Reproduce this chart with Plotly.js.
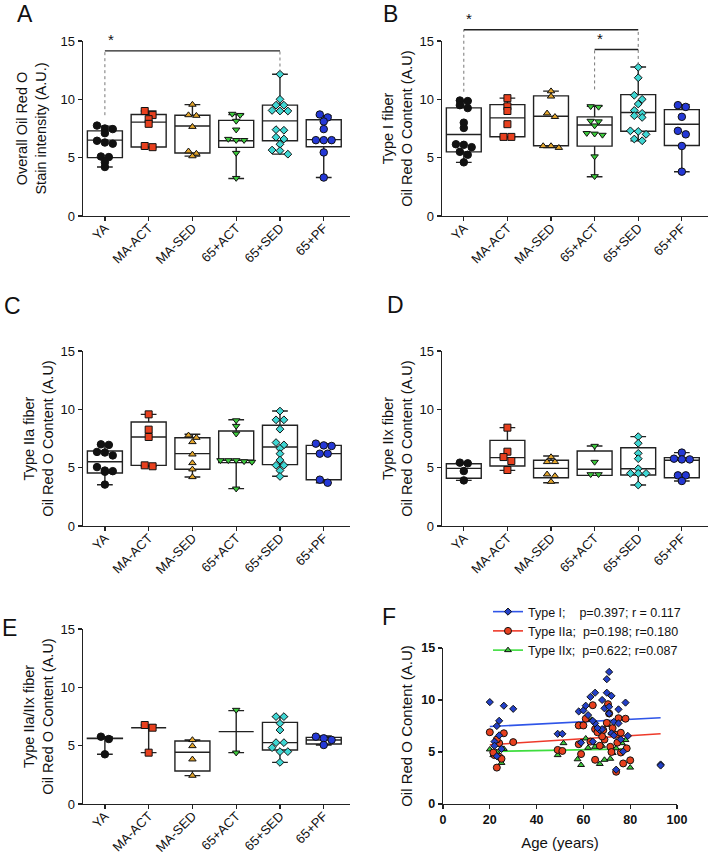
<!DOCTYPE html>
<html><head><meta charset="utf-8">
<script src="https://cdn.plot.ly/plotly-3.0.1.min.js"></script>
<style>body{margin:0;background:#fff}</style>
</head><body><div id="chart" style="width:709px;height:855px"></div>
<script>
// ---------- categories / styles ----------
const groups = ['YA','MA-ACT','MA-SED','65+ACT','65+SED','65+PF'];
const groupColors = ['#111111','#E8401E','#E3A52C','#3CCB3C','#3ED6D3','#2438D6'];
const groupSymbols = ['circle','square','triangle-up','triangle-down','diamond','circle'];

// ---------- Panel A: Overall Oil Red O stain intensity ----------
const A_pts = [
  [7.75,7.45,7.5,7.1,6.3,6.45,6.2,5.1,5.05,4.6,4.2],
  [9.0,8.65,8.3,7.9,6.0,5.9],
  [9.55,8.6,8.65,7.65,5.55,5.35,5.13],
  [8.75,8.65,8.15,7.4,6.6,6.5,6.5,5.4,3.25],
  [12.15,10.0,9.5,9.5,9.0,9.0,9.05,7.4,7.35,6.75,6.6,6.15,5.65,5.6,5.3],
  [8.7,8.45,8.1,7.45,6.5,6.5,6.5,5.45,3.3]
];
const A_q1  = [5.0, 5.92, 5.4, 5.88, 6.45, 5.94];
const A_med = [6.5, 8.05, 7.72, 6.45, 8.15, 6.55];
const A_q3  = [7.3, 8.7, 8.64, 8.2, 9.5, 8.25];
const A_lo  = [4.2, 5.85, 5.13, 3.22, 5.3, 3.3];
const A_hi  = [7.7, 9.0, 9.55, 8.7, 12.15, 8.6];

// ---------- Panel B: Type I fiber ----------
const B_pts = [
  [9.9,9.85,9.5,9.25,8.0,7.55,6.15,6.1,5.9,5.5,5.25,4.6],
  [10.1,9.4,9.0,7.87,6.78,6.78],
  [10.7,10.25,8.8,8.5,6.0,5.85,6.0],
  [9.4,9.35,8.15,8.1,7.75,7.1,7.05,6.95,5.1,3.4],
  [12.75,11.85,10.35,10.0,9.6,9.05,8.8,8.6,8.45,7.3,7.25,7.0,6.6,6.45],
  [9.5,9.35,8.5,7.3,7.0,6.0,3.8]
];
const B_q1  = [5.5, 6.79, 6.02, 5.99, 7.27, 6.04];
const B_med = [6.99, 8.41, 8.55, 7.8, 8.87, 7.87];
const B_q3  = [9.27, 9.55, 10.3, 8.5, 10.4, 9.12];
const B_lo  = [4.6, 6.7, 5.87, 3.36, 6.44, 3.79];
const B_hi  = [9.9, 10.1, 10.7, 9.41, 12.77, 9.55];

// ---------- Panel C: Type IIa fiber ----------
const C_pts = [
  [7.0,6.95,6.35,6.3,6.05,5.05,4.75,4.7,4.65,3.55],
  [9.57,8.26,7.63,5.2,5.12],
  [7.77,7.57,7.2,6.14,5.4,4.86,4.2],
  [9.05,8.57,7.91,5.63,5.54,5.49,5.63,5.63,3.2],
  [9.85,9.1,9.1,8.3,7.15,6.95,6.65,6.2,5.65,5.2,5.2,4.75,4.25],
  [7.06,6.86,6.91,6.2,6.2,3.97,3.71]
];
const C_q1  = [4.54, 5.2, 4.86, 5.43, 5.26, 3.97];
const C_med = [5.51, 7.63, 6.2, 5.63, 6.77, 6.2];
const C_q3  = [6.43, 8.91, 7.57, 8.14, 8.63, 6.91];
const C_lo  = [3.54, 5.11, 4.2, 3.2, 4.26, 3.71];
const C_hi  = [7.0, 9.57, 7.86, 9.11, 9.86, 7.06];

// ---------- Panel D: Type IIx fiber ----------
const D_pts = [
  [5.37,5.43,4.71,3.91],
  [8.43,6.37,5.91,5.57,4.8],
  [5.91,5.49,5.49,4.43,4.29,3.8],
  [6.86,5.49,4.43,4.43],
  [7.66,7.09,6.23,5.77,4.91,4.51,4.51,4.51,3.51],
  [6.29,5.77,5.71,5.71,4.34,4.34,3.86]
];
const D_q1  = [4.09, 5.14, 4.14, 4.34, 4.37, 4.14];
const D_med = [4.94, 5.86, 4.94, 4.86, 4.91, 5.63];
const D_q3  = [5.34, 7.34, 5.63, 6.43, 6.71, 5.86];
const D_lo  = [3.91, 4.77, 3.71, 4.34, 3.51, 3.86];
const D_hi  = [5.43, 8.43, 6.0, 6.86, 7.66, 6.29];

// ---------- Panel E: Type IIa/IIx fiber ----------
const E_pts = [
  [5.77,5.57,4.26],
  [6.77,6.54,4.4],
  [5.49,4.97,3.83,2.43],
  [8.06,4.4],
  [7.49,7.49,6.91,6.34,5.26,5.26,4.83,4.49,4.49,3.57],
  [5.63,5.77,5.49,5.06]
];
const E_q1  = [5.6, 6.54, 2.83, 6.2, 4.63, 5.14];
const E_med = [5.6, 6.54, 4.43, 6.2, 5.26, 5.49];
const E_q3  = [5.63, 6.54, 5.4, 6.2, 7.0, 5.71];
const E_lo  = [4.26, 4.4, 2.43, 4.4, 3.57, 5.06];
const E_hi  = [5.77, 6.77, 5.49, 8.0, 7.49, 5.83];

// ---------- Panel F: Oil Red O content vs age ----------
const F_ageI = [20,22,23,23,24,24,25,26,30,22,49,51,58,59,60,61,62,63,64,65,65,67,68,68,69,70,70,71,71,71,72,72,73,73,74,75,75,76,77,78,79,93,93,64,66];
const F_valI = [9.8,6.0,7.5,4.6,8.0,6.6,5.3,9.45,9.15,5.6,6.75,6.75,8.9,5.9,9.0,9.45,8.55,10.3,6.0,10.7,7.75,7.1,10.0,7.2,9.2,12.0,10.7,12.7,9.35,8.7,10.4,6.8,7.9,6.6,3.3,9.1,7.75,6.2,5.05,9.75,6.55,3.8,3.7,8.0,7.3];
const F_ageIIa = [20,26,30,24,22,24,25,23,21.5,23,49,51,58,60,61,64,65,58,59,63,65,67,68.5,70.5,71,69,71.5,72,75,74,76,74.5,76,77,78,78.5,80,74,68,70,72.5,66];
const F_valIIa = [6.9,6.8,5.95,5.85,4.7,4.55,4.35,3.5,4.95,6.2,5.2,5.1,7.55,7.55,8.2,9.5,7.2,5.75,4.8,6.0,4.25,5.6,7.1,9.6,8.7,6.2,5.5,5.0,8.25,6.65,6.85,5.9,4.95,3.9,8.2,5.35,4.2,3.1,6.5,7.8,7.3,6.9];
const F_ageIIx = [20,21.5,26,25,23,49,51.5,57.5,59,61,63.5,65,67,69,71.5,72.5,70.5,72,78,80,74,76.5,62,68];
const F_valIIx = [5.25,4.7,5.3,3.95,5.0,4.7,5.85,4.3,3.75,6.3,8.1,5.5,3.85,4.25,4.35,4.9,7.6,6.8,6.15,3.5,5.35,5.85,5.4,5.6];
// regression line end points
const F_fitX_I = [20, 93],  F_fitY_I = [7.45, 8.3];
const F_fitX_IIa = [20, 93], F_fitY_IIa = [5.7, 6.75];
const F_fitX_IIx = [20, 80], F_fitY_IIx = [5.05, 5.3];
const F_legend = ['Type I;\u00a0\u00a0\u00a0 p=0.397; r = 0.117', 'Type IIa;\u00a0 p=0.198; r=0.180', 'Type IIx;\u00a0 p=0.622; r=0.087'];

// ---------- significance brackets (panel, left cat, right cat, bar y, left drop y, right drop y) ----------
const sigPanel = [0, 1, 1];
const sigLeft  = [0, 0, 3];
const sigRight = [4, 4, 4];
const sigBarY  = [14.15, 15.97, 14.27];
const sigLeftY = [8.64, 10.65, 10.85];
const sigRightY= [12.3, 12.95, 14.27];

const yTitles = [
  'Overall Oil Red O<br>Stain intensity (A.U.)',
  'Type I fiber<br>Oil Red O Content (A.U)',
  'Type IIa fiber<br>Oil Red O Content (A.U)',
  'Type IIx fiber<br>Oil Red O Content (A.U)',
  'Type IIa/IIx fiber<br>Oil Red O Content (A.U)'
];
const yStandoff = [10, 3, 3, 3, 3];
const letters = ['A','B','C','D','E','F'];

// ---------- layout geometry ----------
const W = 709, H = 855;
const FONT = 'Arial, "Liberation Sans", Helvetica, sans-serif';
const xDom = [[83/W, 350/W],[442/W, 708/W],[83/W, 350/W],[442/W, 708/W],[83/W, 350/W],[443/W, 677/W]];
const yDom = [[1-216/H, 1-41/H],[1-216/H, 1-41/H],[1-526/H, 1-351/H],[1-526/H, 1-351/H],[1-804/H, 1-629/H],[1-804/H, 1-648/H]];
const catRange = [-0.5, 5.6];
const letterPos = [[15,14],[381,14],[2,306],[385,305],[0,628],[380,617]];

const boxPanels = [
  {pts:A_pts,q1:A_q1,med:A_med,q3:A_q3,lo:A_lo,hi:A_hi},
  {pts:B_pts,q1:B_q1,med:B_med,q3:B_q3,lo:B_lo,hi:B_hi},
  {pts:C_pts,q1:C_q1,med:C_med,q3:C_q3,lo:C_lo,hi:C_hi},
  {pts:D_pts,q1:D_q1,med:D_med,q3:D_q3,lo:D_lo,hi:D_hi},
  {pts:E_pts,q1:E_q1,med:E_med,q3:E_q3,lo:E_lo,hi:E_hi}
];

function axId(i){ return i===0 ? '' : String(i+1); }

// Prism-like scatter-dot layout: points within a small value band share a centred row
function swarm(vals, center, spacing, thr){
  const idx = vals.map((v,i)=>i).sort((a,b)=>vals[b]-vals[a]);
  const xs = new Array(vals.length);
  let i = 0;
  while(i < idx.length){
    const row = [idx[i]];
    let j = i+1;
    while(j < idx.length && vals[idx[i]] - vals[idx[j]] < thr){ row.push(idx[j]); j++; }
    row.forEach((k,n)=>{ xs[k] = center + (n - (row.length-1)/2)*spacing; });
    i = j;
  }
  return xs;
}

const traces = [];
const layout = {
  width: W, height: H, margin:{l:0,r:0,t:0,b:0},
  paper_bgcolor:'#fff', plot_bgcolor:'rgba(0,0,0,0)',
  font:{family:FONT, color:'#111', size:13},
  showlegend:true,
  legend:{x:488/W, y:1-597/H, xanchor:'left', yanchor:'top', bgcolor:'rgba(0,0,0,0)',
          font:{family:FONT, size:12.5, color:'#111'}, itemwidth:30, tracegroupgap:0},
  shapes:[], annotations:[]
};

const symSize = {'circle':7.5,'square':7,'triangle-up':6.5,'triangle-down':6.5,'diamond':6};

boxPanels.forEach((p, i)=>{
  const id = axId(i);
  const xa = 'x'+id, ya = 'y'+id;
  traces.push({
    type:'box', xaxis:xa, yaxis:ya, x:[0,1,2,3,4,5],
    q1:p.q1, median:p.med, q3:p.q3, lowerfence:p.lo, upperfence:p.hi,
    width:0.8, whiskerwidth:0.45, boxpoints:false,
    fillcolor:'#ffffff', line:{color:'#222', width:1.4},
    showlegend:false, hoverinfo:'skip'
  });
  p.pts.forEach((vals, g)=>{
    traces.push({
      type:'scatter', mode:'markers', xaxis:xa, yaxis:ya,
      x: swarm(vals, g, 0.18, 0.38), y: vals,
      marker:{symbol:groupSymbols[g], color:groupColors[g], size:symSize[groupSymbols[g]],
              line:{color:'#111', width:1}},
      showlegend:false, hoverinfo:'skip', cliponaxis:false
    });
  });
  layout['xaxis'+id] = {
    domain:xDom[i], anchor:ya, range:catRange, tickvals:[0,1,2,3,4,5], ticktext:groups,
    tickangle:-45, ticks:'outside', ticklen:4, tickwidth:1.3, tickcolor:'#222', ticklabelstandoff:-6,
    showline:true, linecolor:'#222', linewidth:1.4, showgrid:false, zeroline:false,
    tickfont:{family:FONT, size:13, color:'#111'}, fixedrange:true
  };
  layout['yaxis'+id] = {
    domain:yDom[i], anchor:xa, range:[0,15], tickvals:[0,5,10,15],
    ticks:'outside', ticklen:4, tickwidth:1.3, tickcolor:'#222',
    showline:true, linecolor:'#222', linewidth:1.4, showgrid:false, zeroline:false,
    tickfont:{family:FONT, size:13, color:'#111'},
    title:{text:yTitles[i], font:{family:FONT, size:14.5, color:'#111'}, standoff:yStandoff[i]}, fixedrange:true
  };
});

// Panel F
const fColors = ['#2340C8','#E8401E','#3CC83C'];
const fLine = ['#2F55E8','#EE3A2A','#3EDD3E'];
const fSym = ['diamond','circle','triangle-up'];
const fAges = [F_ageI, F_ageIIa, F_ageIIx];
const fVals = [F_valI, F_valIIa, F_valIIx];
const fFitX = [F_fitX_I, F_fitX_IIa, F_fitX_IIx];
const fFitY = [F_fitY_I, F_fitY_IIa, F_fitY_IIx];
const fSize = [5.5, 7, 6];
// regression lines under the points
[2,1,0].forEach(k=>{
  traces.push({type:'scatter', mode:'lines', xaxis:'x6', yaxis:'y6', x:fFitX[k], y:fFitY[k],
    line:{color:fLine[k], width:1.6}, showlegend:false, hoverinfo:'skip'});
});
[2,1,0].forEach(k=>{
  traces.push({type:'scatter', mode:'markers', xaxis:'x6', yaxis:'y6', x:fAges[k], y:fVals[k],
    marker:{symbol:fSym[k], color:fColors[k], size:fSize[k], line:{color:'#111', width:1}},
    showlegend:false, hoverinfo:'skip'});
});
[0,1,2].forEach(k=>{
  traces.push({type:'scatter', mode:'lines+markers', xaxis:'x6', yaxis:'y6', x:[null], y:[null],
    name:F_legend[k], line:{color:fLine[k], width:1.6},
    marker:{symbol:fSym[k], color:fColors[k], size:fSize[k], line:{color:'#111', width:1}},
    showlegend:true, hoverinfo:'skip'});
});
layout.xaxis6 = {
  domain:xDom[5], anchor:'y6', range:[0,100], tickvals:[0,20,40,60,80,100],
  ticks:'outside', ticklen:4, tickwidth:1.3, tickcolor:'#222',
  showline:true, linecolor:'#222', linewidth:1.4, showgrid:false, zeroline:false,
  tickfont:{family:FONT, size:12.5, color:'#111', weight:700},
  title:{text:'Age (years)', font:{family:FONT, size:15, color:'#111'}, standoff:11}, fixedrange:true
};
layout.yaxis6 = {
  domain:yDom[5], anchor:'x6', range:[0,15], tickvals:[0,5,10,15],
  ticks:'outside', ticklen:4, tickwidth:1.3, tickcolor:'#222',
  showline:true, linecolor:'#222', linewidth:1.4, showgrid:false, zeroline:false,
  tickfont:{family:FONT, size:12.5, color:'#111', weight:700},
  title:{text:'Oil Red O Content (A.U)', font:{family:FONT, size:15, color:'#111'}, standoff:5}, fixedrange:true
};

// paper conversion for bracket shapes (they rise above the 0-15 axis range)
function px(panel, xv){ const d=xDom[panel]; return d[0] + (xv-catRange[0])/(catRange[1]-catRange[0])*(d[1]-d[0]); }
function py(panel, yv){ const d=yDom[panel]; return d[0] + yv/15*(d[1]-d[0]); }
sigPanel.forEach((p, s)=>{
  const xl = px(p, sigLeft[s]), xr = px(p, sigRight[s]), yb = py(p, sigBarY[s]);
  layout.shapes.push({type:'line', xref:'paper', yref:'paper', x0:xl, x1:xl, y0:py(p, sigLeftY[s]), y1:yb,
    line:{color:'#777', width:1, dash:'dot'}});
  layout.shapes.push({type:'line', xref:'paper', yref:'paper', x0:xr, x1:xr, y0:py(p, sigRightY[s]), y1:yb,
    line:{color:'#777', width:1, dash:'dot'}});
  layout.shapes.push({type:'line', xref:'paper', yref:'paper', x0:xl, x1:xr, y0:yb, y1:yb,
    line:{color:'#222', width:1.4}});
  layout.annotations.push({xref:'paper', yref:'paper', x:px(p, sigLeft[s]+0.13), y:py(p, sigBarY[s]+0.05),
    text:'*', showarrow:false, xanchor:'center', yanchor:'bottom', font:{family:FONT, size:15, color:'#111'}});
});

letters.forEach((L, i)=>{
  layout.annotations.push({xref:'paper', yref:'paper', x:letterPos[i][0]/W, y:1-letterPos[i][1]/H,
    text:L, showarrow:false, xanchor:'left', yanchor:'middle', font:{family:FONT, size:23, color:'#111'}});
});

Plotly.newPlot('chart', traces, layout, {displayModeBar:false, staticPlot:true});
</script>
</body></html>
